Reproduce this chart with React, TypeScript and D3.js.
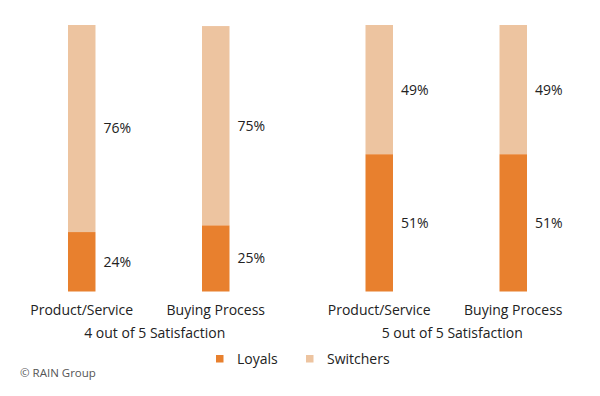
import React from "react";
import * as d3 from "d3";

// data
const groups = ["4 out of 5 Satisfaction", "5 out of 5 Satisfaction"];
const categories = ["Product/Service", "Buying Process"];
const loyals = [22.3, 24.8, 51.5, 51.5];
const switchers = [77.7, 74.8, 48.5, 48.5];
const loyalsLabels = ["24%", "25%", "51%", "51%"];
const switchersLabels = ["76%", "75%", "49%", "49%"];
const seriesNames = ["Loyals", "Switchers"];
const colors = ["#E8802E", "#EDC4A0"];

const W = 600;
const H = 396;
const font = "'Open Sans', sans-serif";

const App = () => {
  const x0 = d3.scaleBand().domain(groups).range([0, 595]);
  const x1 = d3
    .scalePoint()
    .domain(categories)
    .range([0, x0.bandwidth()])
    .padding(0.61);
  const y = d3.scaleLinear().domain([0, 100]).range([291.5, 25]);
  const barW = 27.5;

  const bars = groups.flatMap((g, gi) =>
    categories.map((c, ci) => {
      const i = gi * categories.length + ci;
      const cx = (x0(g) as number) + (x1(c) as number);
      return { g, c, i, cx };
    })
  );

  return (
    <svg
      width={W}
      height={H}
      style={{ position: "absolute", left: 0, top: 0, background: "#fff" }}
      fontFamily={font}
    >
      {bars.map((b) => {
        const l = loyals[b.i];
        const s = switchers[b.i];
        return (
          <g key={b.i}>
            <rect
              x={b.cx - barW / 2}
              width={barW}
              y={y(l + s)}
              height={y(l) - y(l + s)}
              fill={colors[1]}
            />
            <rect
              x={b.cx - barW / 2}
              width={barW}
              y={y(l)}
              height={y(0) - y(l)}
              fill={colors[0]}
            />
            <text
              x={b.cx + barW / 2 + 8}
              y={(y(l) + y(l + s)) / 2}
              dy="0.35em"
              fontSize={14}
              fill="#222"
            >
              {switchersLabels[b.i]}
            </text>
            <text
              x={b.cx + barW / 2 + 8}
              y={(y(0) + y(l)) / 2}
              dy="0.35em"
              fontSize={14}
              fill="#222"
            >
              {loyalsLabels[b.i]}
            </text>
            <text
              x={b.cx}
              y={315}
              textAnchor="middle"
              fontSize={14}
              fill="#222"
            >
              {b.c}
            </text>
          </g>
        );
      })}

      {groups.map((g) => (
        <text
          key={g}
          x={(x0(g) as number) + x0.bandwidth() / 2 + 6}
          y={338}
          textAnchor="middle"
          fontSize={14}
          fill="#222"
        >
          {g}
        </text>
      ))}

      {seriesNames.map((n, i) => (
        <g key={n} transform={`translate(${216 + i * 90},0)`}>
          <rect x={0} y={355} width={7.5} height={7.5} fill={colors[i]} />
          <text x={21} y={364} fontSize={14} fill="#222">
            {n}
          </text>
        </g>
      ))}

      <text x={20} y={377} fontSize={11.5} fill="#555">
        © RAIN Group
      </text>
    </svg>
  );
};

export default App;
